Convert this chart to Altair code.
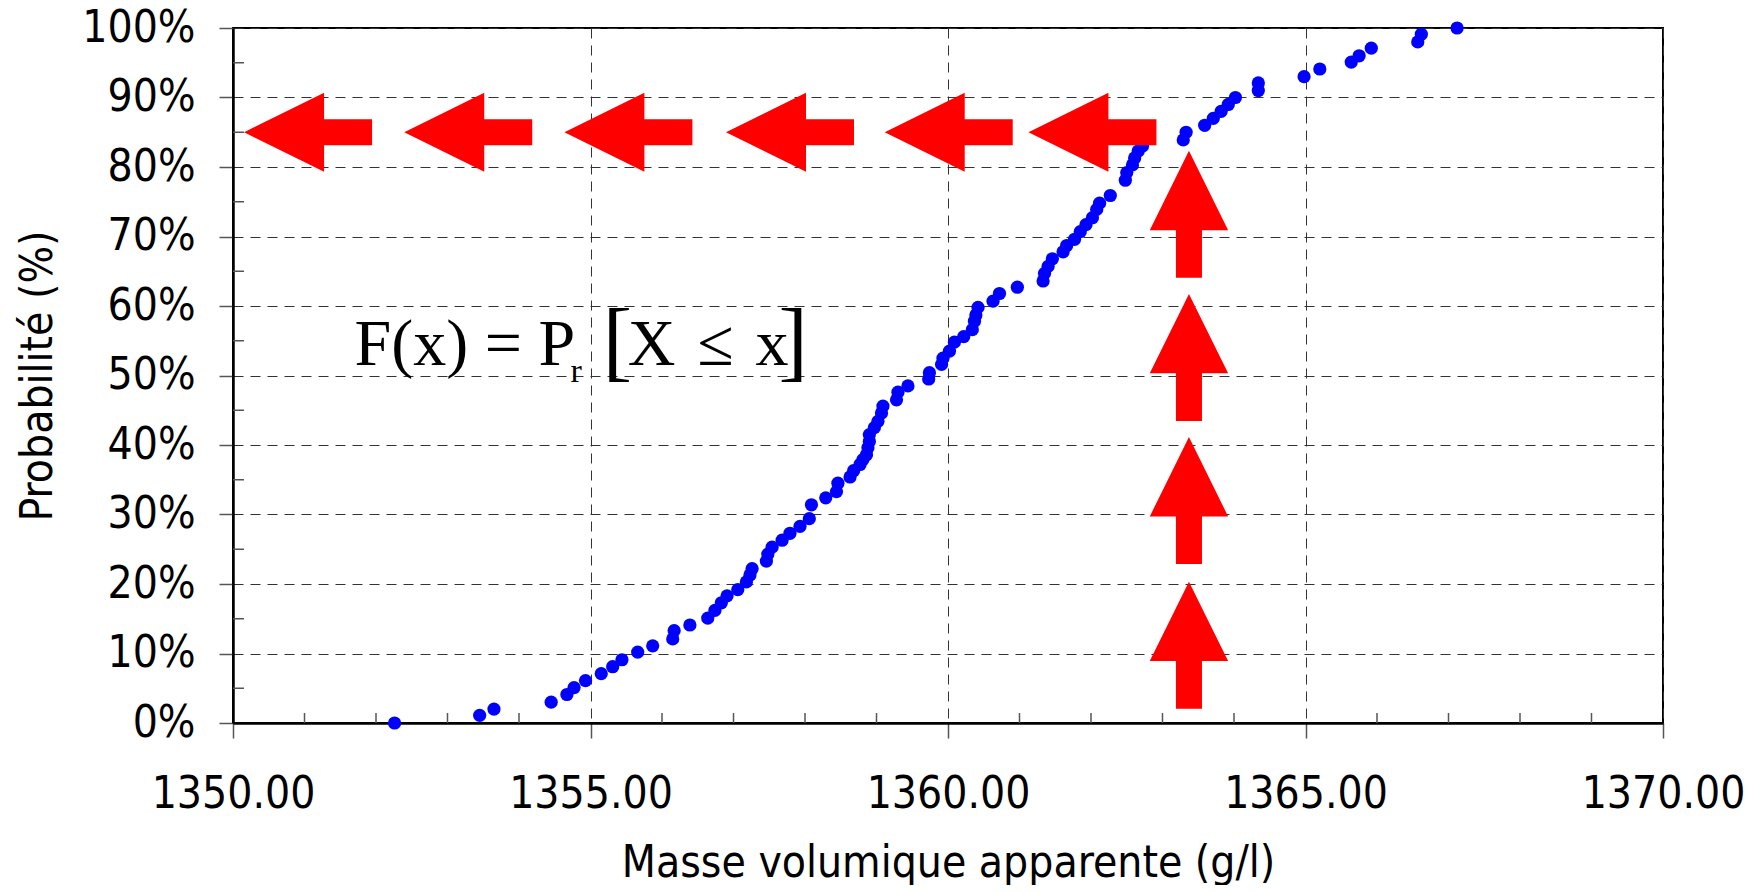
import altair as alt
import pandas as pd

# ---- data ----
masse = [1352.26, 1353.45, 1353.65, 1354.45, 1354.67, 1354.77, 1354.93, 1355.15, 1355.31, 1355.44,
         1355.66, 1355.87, 1356.15, 1356.17, 1356.39, 1356.64, 1356.74, 1356.83, 1356.91, 1357.06,
         1357.18, 1357.23, 1357.26, 1357.46, 1357.48, 1357.54, 1357.68, 1357.79, 1357.93, 1358.06,
         1358.09, 1358.29, 1358.44, 1358.46, 1358.63, 1358.68, 1358.77, 1358.81, 1358.86, 1358.88,
         1358.90, 1358.90, 1358.97, 1359.02, 1359.07, 1359.09, 1359.28, 1359.30, 1359.44, 1359.73,
         1359.74, 1359.91, 1359.93, 1360.02, 1360.09, 1360.22, 1360.34, 1360.37, 1360.39, 1360.42,
         1360.63, 1360.72, 1360.97, 1361.33, 1361.35, 1361.40, 1361.46, 1361.61, 1361.66, 1361.77,
         1361.85, 1361.93, 1362.02, 1362.08, 1362.12, 1362.27, 1362.48, 1362.50, 1362.58, 1362.61,
         1362.66, 1362.72, 1363.29, 1363.33, 1363.59, 1363.71, 1363.82, 1363.92, 1364.02, 1364.34,
         1364.34, 1364.98, 1365.20, 1365.64, 1365.75, 1365.92, 1366.57, 1366.62, 1367.12]
proba = [0.0, 1.1, 2.0, 3.0, 4.1, 5.1, 6.1, 7.1, 8.1, 9.1,
         10.2, 11.1, 12.1, 13.3, 14.1, 15.1, 16.2, 17.3, 18.3, 19.2,
         20.3, 21.3, 22.2, 23.3, 24.3, 25.3, 26.3, 27.3, 28.3, 29.4,
         31.4, 32.4, 33.3, 34.5, 35.4, 36.3, 37.2, 37.9, 38.6, 39.6,
         40.5, 41.5, 42.5, 43.4, 44.6, 45.6, 46.5, 47.6, 48.5, 49.5,
         50.4, 51.6, 52.5, 53.5, 54.8, 55.6, 56.6, 57.8, 58.7, 59.8,
         60.7, 61.8, 62.7, 63.6, 64.7, 65.7, 66.8, 67.8, 68.7, 69.6,
         70.7, 71.7, 72.7, 73.9, 74.8, 75.9, 78.1, 79.2, 80.3, 81.3,
         82.3, 83.0, 83.9, 85.0, 86.0, 87.0, 88.0, 89.0, 90.0, 91.0,
         92.1, 93.0, 94.1, 95.1, 96.0, 97.1, 98.0, 99.1, 100.0]

x_ticks = [1350, 1355, 1360, 1365, 1370]
y_ticks = [0, 10, 20, 30, 40, 50, 60, 70, 80, 90, 100]
x_minor = [1351, 1352, 1353, 1354, 1356, 1357, 1358, 1359, 1361, 1362, 1363, 1364,
           1366, 1367, 1368, 1369]
y_minor = [5, 15, 25, 35, 45, 55, 65, 75, 85, 95]

arrow_left_x = [1351.05, 1353.29, 1355.53, 1357.79, 1360.01, 1362.02]
arrow_left_y = [85, 85, 85, 85, 85, 85]
arrow_up_x = [1363.37, 1363.37, 1363.37, 1363.37]
arrow_up_y = [73.2, 52.6, 32.0, 11.2]

formula_parts = ["F(x) = P", "r", "[", "X\u2004\u2264\u2004x", "]"]
formula_x = [1351.70, 1354.72, 1355.17, 1355.52, 1358.04]
formula_y = [51.55, 49.1, 50.8, 51.55, 50.8]

# ---- chart ----
LABEL_FONT = "DejaVu Sans Condensed"
X_DOM = [1350, 1370]
Y_DOM = [0, 100]

xs = alt.Scale(domain=X_DOM, nice=False, zero=False)
ys = alt.Scale(domain=Y_DOM, nice=False, zero=False)

pts = pd.DataFrame({"masse": masse, "proba": proba})

x_axis = alt.Axis(values=x_ticks, format=".2f", title="Masse volumique apparente (g/l)",
                  grid=True, gridDash=[10, 7], gridColor="#333333", gridWidth=1,
                  tickSize=15, tickColor="#555555", tickWidth=1.5,
                  domainColor="black", domainWidth=2.5,
                  labelFont=LABEL_FONT, labelFontSize=44, labelColor="black",
                  labelPadding=34, labelFlush=False, labelOverlap=False,
                  titleFont=LABEL_FONT, titleFontSize=44, titleFontWeight="normal",
                  titleColor="black", titlePadding=25)
y_axis = alt.Axis(values=y_ticks, labelExpr="datum.value + '%'", title="Probabilité (%)",
                  grid=True, gridDash=[10, 7], gridColor="#333333", gridWidth=1,
                  tickSize=14, tickColor="#555555", tickWidth=1.5,
                  domainColor="black", domainWidth=2.5,
                  labelFont=LABEL_FONT, labelFontSize=44, labelColor="black",
                  labelPadding=24, labelFlush=False, labelOverlap=False,
                  titleFont=LABEL_FONT, titleFontSize=44, titleFontWeight="normal",
                  titleColor="black", titlePadding=21)

points = alt.Chart(pts).mark_circle(size=175, color="#0000FF", opacity=1).encode(
    x=alt.X("masse:Q", scale=xs, axis=x_axis),
    y=alt.Y("proba:Q", scale=ys, axis=y_axis),
)

xm = alt.Chart(pd.DataFrame({"v": x_minor})).mark_tick(
    size=10, thickness=1.5, color="#555555", opacity=1).encode(
    x=alt.X("v:Q", scale=xs), y=alt.value(690))
ym = alt.Chart(pd.DataFrame({"v": y_minor})).mark_tick(
    size=11, thickness=1.5, color="#555555", opacity=1).encode(
    y=alt.Y("v:Q", scale=ys), x=alt.value(5.5))

ARROW = "M -1 0 L 0.25 -0.617 L 0.25 -0.205 L 1 -0.205 L 1 0.205 L 0.25 0.205 L 0.25 0.617 Z"

left = alt.Chart(pd.DataFrame({"x": arrow_left_x, "y": arrow_left_y})).mark_point(
    shape=ARROW, size=16384, filled=True, color="#FF0000", opacity=1, strokeWidth=0).encode(
    x=alt.X("x:Q", scale=xs), y=alt.Y("y:Q", scale=ys))
up = alt.Chart(pd.DataFrame({"x": arrow_up_x, "y": arrow_up_y})).mark_point(
    shape=ARROW, size=16129, filled=True, color="#FF0000", opacity=1, strokeWidth=0,
    angle=90).encode(
    x=alt.X("x:Q", scale=xs), y=alt.Y("y:Q", scale=ys))

fdf = pd.DataFrame({"t": formula_parts, "x": formula_x, "y": formula_y})
sizes = [66, 34, 88, 66, 88]
aligns = ["left", "left", "left", "left", "right"]
texts = []
for i in range(len(formula_parts)):
    texts.append(
        alt.Chart(fdf.iloc[[i]]).mark_text(
            font="Liberation Serif", fontSize=sizes[i], align=aligns[i],
            baseline="alphabetic", color="black").encode(
            x=alt.X("x:Q", scale=xs), y=alt.Y("y:Q", scale=ys), text="t:N")
    )

chart = alt.layer(points, xm, ym, left, up, *texts).properties(
    width=1430, height=695,
    autosize=alt.AutoSizeParams(type="none"),
    padding={"left": 225, "top": 20, "right": 90, "bottom": 162},
).configure_view(stroke="black", strokeWidth=2)

chart.save("out.html", embed_options={"renderer": "svg", "actions": False})
